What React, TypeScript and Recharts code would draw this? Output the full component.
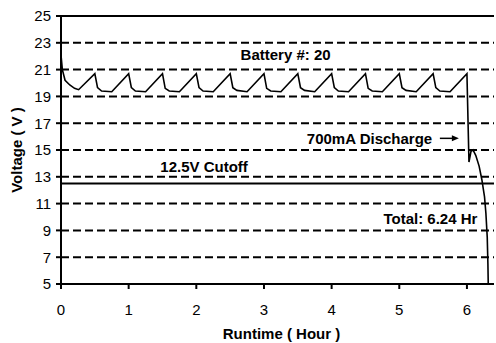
import { LineChart, Line, XAxis, YAxis, ReferenceLine, ReferenceDot } from 'recharts';

// runtime in hours and pack voltage
const runtime = [
  0, 0.02, 0.06, 0.13, 0.2, 0.26, 0.5,
  0.54, 0.6, 0.75, 1.0,
  1.04, 1.1, 1.25, 1.5,
  1.54, 1.6, 1.75, 2.0,
  2.04, 2.1, 2.25, 2.5,
  2.54, 2.6, 2.75, 3.0,
  3.04, 3.1, 3.25, 3.5,
  3.54, 3.6, 3.75, 4.0,
  4.04, 4.1, 4.25, 4.5,
  4.54, 4.6, 4.75, 5.0,
  5.04, 5.1, 5.25, 5.5,
  5.54, 5.6, 5.75, 6.0,
  6.03, 6.06, 6.09, 6.13, 6.18, 6.22, 6.26, 6.28, 6.3, 6.31, 6.315,
];
const voltage = [
  22.1, 21.0, 20.2, 19.85, 19.6, 19.5, 20.7,
  19.65, 19.4, 19.35, 20.7,
  19.65, 19.4, 19.35, 20.7,
  19.6, 19.4, 19.35, 20.7,
  19.65, 19.4, 19.35, 20.7,
  19.65, 19.45, 19.35, 20.7,
  19.6, 19.4, 19.35, 20.7,
  19.65, 19.45, 19.35, 20.7,
  19.65, 19.4, 19.35, 20.7,
  19.6, 19.4, 19.35, 20.7,
  19.65, 19.45, 19.35, 20.7,
  19.65, 19.4, 19.35, 20.7,
  14.1, 14.9, 15.0, 14.6, 13.8, 12.8, 11.5, 10.3, 8.5, 6.5, 5.0,
];

const xTicks = [0, 1, 2, 3, 4, 5, 6];
const yTicks = [5, 7, 9, 11, 13, 15, 17, 19, 21, 23, 25];
const dashedLevels = [7, 9, 11, 13, 15, 17, 19, 21, 23];
const cutoffVolts = 12.5;

const data = runtime.map((t, i) => ({ t, v: voltage[i] }));

const FONT = 'Liberation Sans, Arial, sans-serif';
const tickStyle = { fontFamily: FONT, fontSize: 15, fill: '#000' };
const noteStyle = { fontFamily: FONT, fontSize: 15, fontWeight: 'bold', fill: '#000' };

// small pointer arrow next to the discharge note
const Arrow = (props: any) => {
  const { cx, cy } = props;
  if (cx == null || cy == null) return null;
  return (
    <g>
      <line x1={cx} y1={cy} x2={cx + 13} y2={cy} stroke="#000" strokeWidth={1.5} />
      <polygon points={`${cx + 12},${cy - 3} ${cx + 19},${cy} ${cx + 12},${cy + 3}`} fill="#000" />
    </g>
  );
};

export default function App() {
  const notes = [
    { x: 3.32, y: 22.14, text: 'Battery #: 20' },
    { x: 4.56, y: 15.87, text: '700mA Discharge' },
    { x: 2.115, y: 13.75, text: '12.5V Cutoff' },
    { x: 5.46, y: 9.85, text: 'Total: 6.24 Hr' },
  ];
  return (
    <div style={{ position: 'absolute', left: 0, top: 0 }}>
      <LineChart width={496} height={343} data={data} margin={{ top: 16, right: 2, bottom: 0, left: 0 }}>
        <XAxis
          dataKey="t"
          type="number"
          domain={[0, 6.4]}
          ticks={xTicks}
          height={59}
          tickSize={5}
          tickMargin={15}
          tick={tickStyle}
          axisLine={{ stroke: '#000', strokeWidth: 2 }}
          tickLine={{ stroke: '#000', strokeWidth: 2 }}
          label={{ value: 'Runtime ( Hour )', position: 'insideBottom', offset: 4, dx: 4, style: noteStyle }}
        />
        <YAxis
          type="number"
          domain={[5, 25]}
          ticks={yTicks}
          width={61}
          tickSize={5}
          tickMargin={5}
          tick={tickStyle}
          axisLine={{ stroke: '#000', strokeWidth: 2 }}
          tickLine={{ stroke: '#000', strokeWidth: 2 }}
          label={{ value: 'Voltage ( V )', angle: -90, position: 'insideLeft', offset: 17, style: { ...noteStyle, textAnchor: 'middle' } }}
        />
        {dashedLevels.map((lv) => (
          <ReferenceLine key={lv} y={lv} stroke="#000" strokeWidth={2} strokeDasharray="8 4" />
        ))}
        <ReferenceLine y={25} stroke="#000" strokeWidth={2} />
        <ReferenceLine y={cutoffVolts} stroke="#000" strokeWidth={2} />
        {notes.map((n) => (
          <ReferenceDot
            key={n.text}
            x={n.x}
            y={n.y}
            r={0}
            fill="none"
            stroke="none"
            label={{ value: n.text, position: 'center', style: noteStyle }}
          />
        ))}
        <ReferenceDot x={5.6} y={15.87} r={0} shape={Arrow} />
        <Line type="linear" dataKey="v" stroke="#000" strokeWidth={1.6} dot={false} isAnimationActive={false} />
      </LineChart>
    </div>
  );
}
